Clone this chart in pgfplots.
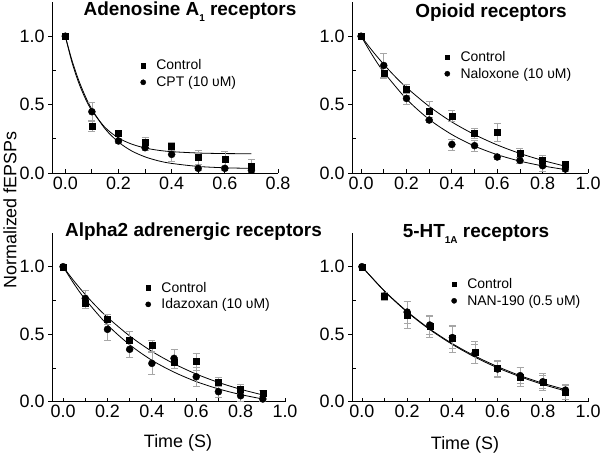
\documentclass[border=0pt]{standalone}
\usepackage{fontspec}
\setmainfont{Liberation Sans}
\usepackage{pgfplots}
\usepackage{pgfplotstable}
\pgfplotsset{compat=1.18}

% x  y  e  (mean, error)
\pgfplotstableread{
x y e
0 1.0 0
0.1 0.343 0.04
0.2 0.294 0.02
0.3 0.224 0.035
0.4 0.197 0.03
0.5 0.115 0.05
0.6 0.100 0.055
0.7 0.053 0.045
}\adenoCtrl
\pgfplotstableread{
x y e
0 1.0 0
0.1 0.448 0.07
0.2 0.234 0.02
0.3 0.185 0.02
0.4 0.136 0.05
0.5 0.034 0.015
0.6 0.034 0.015
0.7 0.020 0.015
}\adenoCPT
\pgfplotstableread{
x y e
0 1.0 0
0.1 0.732 0.04
0.2 0.611 0.04
0.3 0.453 0.07
0.4 0.416 0.04
0.5 0.290 0.04
0.6 0.297 0.065
0.7 0.148 0.035
0.8 0.090 0.04
0.9 0.063 0.02
}\opCtrl
\pgfplotstableread{
x y e
0 1.0 0
0.1 0.786 0.09
0.2 0.545 0.04
0.3 0.387 0.02
0.4 0.209 0.04
0.5 0.200 0.04
0.6 0.117 0.015
0.7 0.092 0.02
0.8 0.053 0.04
0.9 0.029 0.02
}\opNal
\pgfplotstableread{
x y e
0 1.0 0
0.1 0.765 0.06
0.2 0.536 0.08
0.3 0.388 0.06
0.4 0.284 0.08
0.5 0.321 0.07
0.6 0.185 0.07
0.7 0.074 0.04
0.8 0.044 0.04
0.9 0.020 0.02
}\alIda
\pgfplotstableread{
x y e
0 1.0 0
0.1 0.783 0.03
0.2 0.642 0.10
0.3 0.556 0.08
0.4 0.469 0.10
0.5 0.365 0.08
0.6 0.247 0.06
0.7 0.185 0.07
0.8 0.148 0.06
0.9 0.069 0.05
}\htCtrl
\pgfplotstableread{
x y e
0 1.0 0
0.1 0.783 0.03
0.2 0.664 0.08
0.3 0.568 0.07
0.4 0.475 0.08
0.5 0.358 0.07
0.6 0.242 0.06
0.7 0.193 0.06
0.8 0.148 0.05
0.9 0.086 0.04
}\htNan

% fitted curves
\pgfplotstableread{
x y
0 1.0
0.025 0.810
0.05 0.662
0.075 0.546
0.1 0.456
0.15 0.332
0.2 0.256
0.25 0.211
0.3 0.183
0.35 0.166
0.4 0.156
0.5 0.146
0.6 0.142
0.7 0.141
}\fitAdenoCtrl
\pgfplotstableread{
x y
0 1.0
0.025 0.824
0.05 0.680
0.075 0.562
0.1 0.466
0.15 0.322
0.2 0.226
0.25 0.161
0.3 0.118
0.35 0.089
0.4 0.070
0.5 0.048
0.6 0.038
0.7 0.034
}\fitAdenoCPT
\pgfplotstableread{
x y
0 1.0
0.05 0.892
0.1 0.794
0.15 0.705
0.2 0.625
0.3 0.487
0.4 0.373
0.5 0.281
0.6 0.205
0.7 0.143
0.8 0.092
0.9 0.050
}\fitCtrl
\pgfplotstableread{
x y
0 1.0
0.05 0.860
0.1 0.738
0.2 0.541
0.3 0.392
0.4 0.281
0.5 0.197
0.6 0.134
0.7 0.087
0.8 0.052
0.9 0.025
}\fitNal
\pgfplotstableread{
x y
0 1.0
0.05 0.871
0.1 0.758
0.2 0.569
0.3 0.422
0.4 0.307
0.5 0.219
0.6 0.149
0.7 0.095
0.8 0.053
0.9 0.020
}\fitIda
\pgfplotstableread{
x y
0 1.0
0.1 0.818
0.2 0.664
0.3 0.534
0.4 0.424
0.5 0.330
0.6 0.251
0.7 0.185
0.8 0.128
0.9 0.080
}\fitHtCtrl
\pgfplotstableread{
x y
0 1.0
0.1 0.820
0.2 0.668
0.3 0.539
0.4 0.430
0.5 0.338
0.6 0.260
0.7 0.193
0.8 0.137
0.9 0.090
}\fitHtNan

\pgfplotsset{
  panel/.style={
    scale only axis, clip=false, anchor=south west,
    axis x line=bottom, axis y line=left,
    axis line style={-, line width=0.8bp, black},
    ymin=0, ymax=1.25,
    ytick={0,0.5,1},
    extra y ticks={0.25,0.75}, extra y tick labels={},
    extra y tick style={ytick align=inside},
    ytick align=outside, xtick align=inside,
    major tick length=4bp, minor tick length=4bp,
    every tick/.style={black, line width=0.8bp},
    tick label style={font=\fontsize{18}{20}\selectfont},
    /pgf/number format/assume math mode=true,
    xticklabel style={/pgf/number format/.cd, fixed, fixed zerofill, precision=1},
    yticklabel style={/pgf/number format/.cd, fixed, fixed zerofill, precision=1},
    legend style={draw=none, fill=none, inner sep=0pt, outer sep=0pt, anchor=west,
      row sep=5bp,
      nodes={inner sep=0pt, font=\fontsize{14}{16}\selectfont},
      /tikz/every odd column/.append style={column sep=9bp}},
    legend cell align=left,
    legend image code/.code={\path (0bp,0bp) (8bp,0bp); \draw[##1] plot coordinates {(4bp,0bp)};},
  },
  ctrl/.style={only marks, mark=square*, mark size=3bp, black, forget plot,
    error bars/.cd, y dir=both, y explicit,
    error bar style={gray!70, line width=0.6bp},
    error mark options={rotate=90, mark size=3.5bp, gray!70, line width=0.6bp}},
  drug/.style={only marks, mark=*, mark size=3.5bp, black, forget plot,
    error bars/.cd, y dir=both, y explicit,
    error bar style={gray!70, line width=0.6bp},
    error mark options={rotate=90, mark size=3.5bp, gray!70, line width=0.6bp}},
  fit/.style={black, line width=0.8bp, smooth, no marks, forget plot},
  legsq/.style={only marks, mark=square*, mark size=2.2bp, black},
  legci/.style={only marks, mark=*, mark size=2.6bp, black},
}

\newcommand{\sub}[1]{\raisebox{-6bp}{\fontsize{10}{10}\selectfont #1}}

\begin{document}
\begin{tikzpicture}[x=1bp, y=1bp]
\useasboundingbox (0,0) rectangle (600,-457);

% Adenosine A1
\begin{axis}[panel, at={(52bp,-173bp)}, width=226bp, height=171bp,
  xmin=-0.05, xmax=0.8, xtick={0,0.2,0.4,0.6,0.8}, minor xtick={0.1,0.3,0.5,0.7},
  legend style={at={(0.385,0.579)}}]
\addlegendimage{legsq}\addlegendentry{Control}
\addlegendimage{legci}\addlegendentry{CPT (10 υM)}
\addplot[fit] table {\fitAdenoCtrl};
\addplot[fit] table {\fitAdenoCPT};
\addplot[ctrl] table[y error=e] {\adenoCtrl};
\addplot[drug] table[y error=e] {\adenoCPT};
\end{axis}

% Opioid
\begin{axis}[panel, at={(352bp,-173bp)}, width=236bp, height=171bp,
  xmin=-0.04, xmax=1.0, xtick={0,0.2,0.4,0.6,0.8,1.0}, minor xtick={0.1,0.3,0.5,0.7,0.9},
  legend style={at={(0.386,0.629)}}]
\addlegendimage{legsq}\addlegendentry{Control}
\addlegendimage{legci}\addlegendentry{Naloxone (10 υM)}
\addplot[fit] table {\fitCtrl};
\addplot[fit] table {\fitNal};
\addplot[ctrl] table[y error=e] {\opCtrl};
\addplot[drug] table[y error=e] {\opNal};
\end{axis}

% Alpha2
\begin{axis}[panel, at={(52bp,-401.7bp)}, width=233bp, height=168.75bp,
  xmin=-0.05, xmax=1.0, xtick={0,0.2,0.4,0.6,0.8,1.0}, minor xtick={0.1,0.3,0.5,0.7,0.9},
  legend style={at={(0.395,0.626)}}]
\addlegendimage{legsq}\addlegendentry{Control}
\addlegendimage{legci}\addlegendentry{Idazoxan (10 υM)}
\addplot[fit] table {\fitCtrl};
\addplot[fit] table {\fitIda};
\addplot[ctrl] table[y error=e] {\opCtrl};
\addplot[drug] table[y error=e] {\alIda};
\end{axis}

% 5-HT1A
\begin{axis}[panel, at={(352bp,-401.7bp)}, width=236bp, height=168.75bp,
  xmin=-0.044, xmax=1.0, xtick={0,0.2,0.4,0.6,0.8,1.0}, minor xtick={0.1,0.3,0.5,0.7,0.9},
  legend style={at={(0.415,0.647)}}]
\addlegendimage{legsq}\addlegendentry{Control}
\addlegendimage{legci}\addlegendentry{NAN-190 (0.5 υM)}
\addplot[fit] table {\fitHtCtrl};
\addplot[fit] table {\fitHtNan};
\addplot[ctrl] table[y error=e] {\htCtrl};
\addplot[drug] table[y error=e] {\htNan};
\end{axis}

% titles and labels
\begin{scope}[every node/.style={font=\fontsize{19}{21}\selectfont\bfseries, inner sep=0pt, anchor=base}]
\node at (190,-15.5) {Adenosine A\sub{1} receptors};
\node at (491,-18) {Opioid receptors};
\node at (193.5,-237) {Alpha2 adrenergic receptors};
\node at (476,-238) {5-HT\sub{1A} receptors};
\end{scope}
\begin{scope}[every node/.style={font=\fontsize{18}{20}\selectfont, inner sep=0pt}]
\node[rotate=90] at (10,-210) {Normalized fEPSPs};
\node at (178,-443) {Time (S)};
\node at (465,-445) {Time (S)};
\end{scope}
\end{tikzpicture}
\end{document}
